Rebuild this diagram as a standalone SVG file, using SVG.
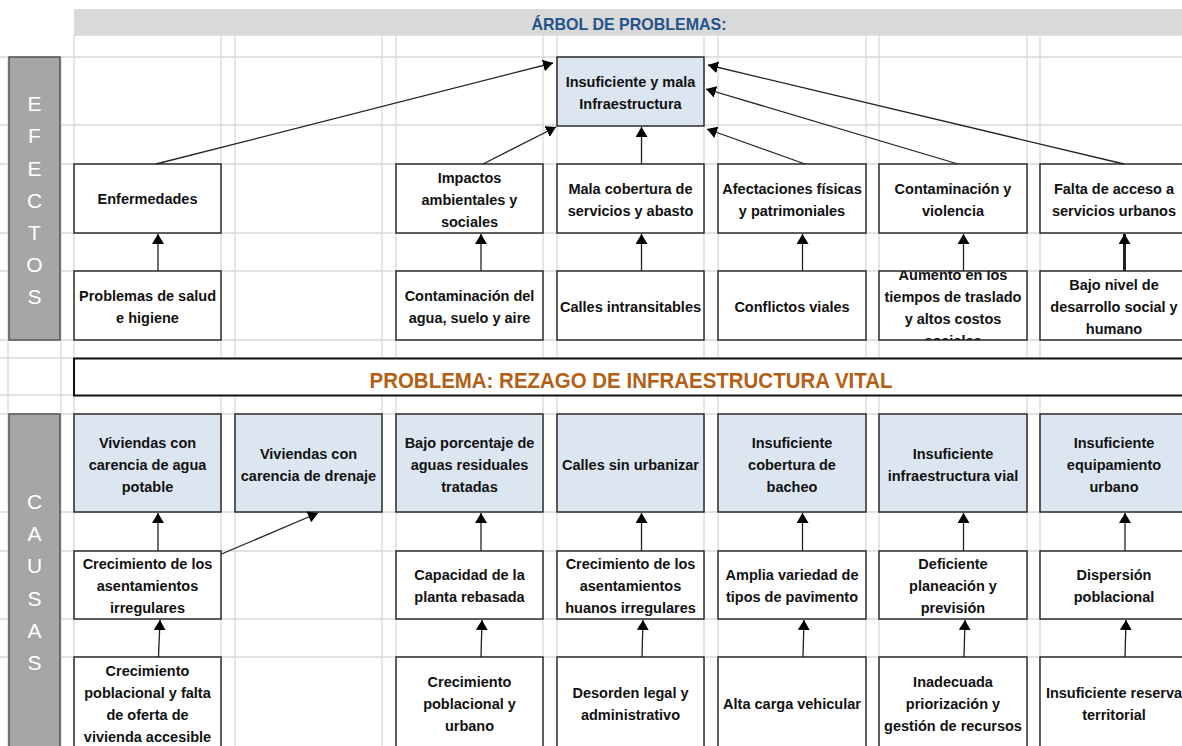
<svg xmlns="http://www.w3.org/2000/svg" width="1182" height="746" viewBox="0 0 1182 746">
<style>
.grid{stroke:#d9d9d9;stroke-width:1.3;fill:none}
.box{fill:#ffffff;stroke:#1e1e1e;stroke-width:1.4}
.blue{fill:#dce6f1;stroke:#1e1e1e;stroke-width:1.4}
.side{fill:#a6a6a6;stroke:#5a5a5a;stroke-width:1.6}
.sl{font-family:"Liberation Sans",Arial,sans-serif;font-size:21px;fill:#ffffff;text-anchor:middle}
.t{font-family:"Liberation Sans",Arial,sans-serif;font-size:14.5px;font-weight:bold;fill:#111111;text-anchor:middle}
.arr{stroke:#222222;stroke-width:1.3;fill:none;marker-end:url(#ah)}
</style>
<defs>
<marker id="ah" viewBox="0 0 10 12" refX="10" refY="6" markerWidth="10" markerHeight="12" markerUnits="userSpaceOnUse" orient="auto">
<path d="M0,0 L10,6 L0,12 z" fill="#000000"/>
</marker>
<clipPath id="clipAum"><rect x="879" y="271" width="147" height="69"/></clipPath>
</defs>
<rect x="0" y="0" width="1182" height="746" fill="#ffffff"/>
<g id="grid">
<path class="grid" d="M8,57V746M61,57V746M74,35V746M221,35V746M235,35V746M382,35V746M396,35V746M543,35V746M557,35V746M704,35V746M718,35V746M866,35V746M879,35V746M1027,35V746M1040,35V746"/>
<path class="grid" d="M74,35H1182M0,57H1182M0,125H1182M0,164H1182M0,233H1182M0,271H1182M0,340H1182M0,358H1182M0,395H1182M0,414H1182M0,512H1182M0,551H1182M0,619H1182M0,657H1182"/>
</g>
<g id="header">
<rect x="74" y="9" width="1108" height="26" fill="#d9d9d9"/>
<text x="629" y="30" font-family="'Liberation Sans',Arial,sans-serif" font-size="17" font-weight="bold" fill="#24538a" text-anchor="middle" textLength="195" lengthAdjust="spacingAndGlyphs">ÁRBOL DE PROBLEMAS:</text>
</g>
<g id="side-efectos">
<rect class="side" x="9" y="57" width="51" height="283"/>
<text class="sl" x="34.5" y="110.5">E</text>
<text class="sl" x="34.5" y="142.8">F</text>
<text class="sl" x="34.5" y="175.5">E</text>
<text class="sl" x="34.5" y="207.5">C</text>
<text class="sl" x="34.5" y="239.5">T</text>
<text class="sl" x="34.5" y="271.5">O</text>
<text class="sl" x="34.5" y="304">S</text>
</g>
<g id="side-causas">
<rect class="side" x="9" y="414" width="51" height="340"/>
<text class="sl" x="34.5" y="509">C</text>
<text class="sl" x="34.5" y="540.5">A</text>
<text class="sl" x="34.5" y="573">U</text>
<text class="sl" x="34.5" y="605.5">S</text>
<text class="sl" x="34.5" y="638">A</text>
<text class="sl" x="34.5" y="669.5">S</text>
</g>
<g id="problema">
<rect x="74" y="358.5" width="1120" height="37" fill="#ffffff" stroke="#111111" stroke-width="2"/>
<text x="631" y="388" font-family="'Liberation Sans',Arial,sans-serif" font-size="22.5" font-weight="bold" fill="#b45f14" text-anchor="middle" textLength="523" lengthAdjust="spacingAndGlyphs">PROBLEMA: REZAGO DE INFRAESTRUCTURA VITAL</text>
</g>
<g id="n-top"><rect class="blue" x="557" y="57" width="147" height="69"/><text class="t" x="630.5" y="86.5">Insuficiente y mala</text><text class="t" x="630.5" y="108.5">Infraestructura</text></g>
<g id="e1-1"><rect class="box" x="74" y="164" width="147" height="69"/><text class="t" x="147.5" y="204">Enfermedades</text></g>
<g id="e1-3"><rect class="box" x="396" y="164" width="147" height="69"/><text class="t" x="469.5" y="182.5">Impactos</text><text class="t" x="469.5" y="204.5">ambientales y</text><text class="t" x="469.5" y="226.5">sociales</text></g>
<g id="e1-4"><rect class="box" x="557" y="164" width="147" height="69"/><text class="t" x="630.5" y="193.5">Mala cobertura de</text><text class="t" x="630.5" y="215.5">servicios y abasto</text></g>
<g id="e1-5"><rect class="box" x="718" y="164" width="148" height="69"/><text class="t" x="792" y="193.5">Afectaciones físicas</text><text class="t" x="792" y="215.5">y patrimoniales</text></g>
<g id="e1-6"><rect class="box" x="879" y="164" width="148" height="69"/><text class="t" x="953" y="193.5">Contaminación y</text><text class="t" x="953" y="215.5">violencia</text></g>
<g id="e1-7"><rect class="box" x="1040" y="164" width="148" height="69"/><text class="t" x="1114" y="193.5">Falta de acceso a</text><text class="t" x="1114" y="215.5">servicios urbanos</text></g>
<g id="e2-1"><rect class="box" x="74" y="271" width="147" height="69"/><text class="t" x="147.5" y="300.5">Problemas de salud</text><text class="t" x="147.5" y="322.5">e higiene</text></g>
<g id="e2-3"><rect class="box" x="396" y="271" width="147" height="69"/><text class="t" x="469.5" y="300.5">Contaminación del</text><text class="t" x="469.5" y="322.5">agua, suelo y aire</text></g>
<g id="e2-4"><rect class="box" x="557" y="271" width="147" height="69"/><text class="t" x="630.5" y="311.5">Calles intransitables</text></g>
<g id="e2-5"><rect class="box" x="718" y="271" width="148" height="69"/><text class="t" x="792" y="311.5">Conflictos viales</text></g>
<g id="e2-6"><rect class="box" x="879" y="271" width="148" height="69"/><g clip-path="url(#clipAum)"><text class="t" x="953" y="280">Aumento en los</text><text class="t" x="953" y="302">tiempos de traslado</text><text class="t" x="953" y="324">y altos costos</text><text class="t" x="953" y="346">sociales</text></g></g>
<g id="e2-7"><rect class="box" x="1040" y="271" width="148" height="69"/><text class="t" x="1114" y="290">Bajo nivel de</text><text class="t" x="1114" y="312">desarrollo social y</text><text class="t" x="1114" y="334">humano</text></g>
<g id="c1-1"><rect class="blue" x="74" y="414" width="147" height="98"/><text class="t" x="147.5" y="447.5">Viviendas con</text><text class="t" x="147.5" y="469.5">carencia de agua</text><text class="t" x="147.5" y="491.5">potable</text></g>
<g id="c1-2"><rect class="blue" x="235" y="414" width="147" height="98"/><text class="t" x="308.5" y="458.5">Viviendas con</text><text class="t" x="308.5" y="480.5">carencia de drenaje</text></g>
<g id="c1-3"><rect class="blue" x="396" y="414" width="147" height="98"/><text class="t" x="469.5" y="447.5">Bajo porcentaje de</text><text class="t" x="469.5" y="469.5">aguas residuales</text><text class="t" x="469.5" y="491.5">tratadas</text></g>
<g id="c1-4"><rect class="blue" x="557" y="414" width="147" height="98"/><text class="t" x="630.5" y="469.5">Calles sin urbanizar</text></g>
<g id="c1-5"><rect class="blue" x="718" y="414" width="148" height="98"/><text class="t" x="792" y="447.5">Insuficiente</text><text class="t" x="792" y="469.5">cobertura de</text><text class="t" x="792" y="491.5">bacheo</text></g>
<g id="c1-6"><rect class="blue" x="879" y="414" width="148" height="98"/><text class="t" x="953" y="458.5">Insuficiente</text><text class="t" x="953" y="480.5">infraestructura vial</text></g>
<g id="c1-7"><rect class="blue" x="1040" y="414" width="148" height="98"/><text class="t" x="1114" y="447.5">Insuficiente</text><text class="t" x="1114" y="469.5">equipamiento</text><text class="t" x="1114" y="491.5">urbano</text></g>
<g id="c2-1"><rect class="box" x="74" y="551" width="147" height="68"/><text class="t" x="147.5" y="569">Crecimiento de los</text><text class="t" x="147.5" y="591">asentamientos</text><text class="t" x="147.5" y="613">irregulares</text></g>
<g id="c2-3"><rect class="box" x="396" y="551" width="147" height="68"/><text class="t" x="469.5" y="580">Capacidad de la</text><text class="t" x="469.5" y="602">planta rebasada</text></g>
<g id="c2-4"><rect class="box" x="557" y="551" width="147" height="68"/><text class="t" x="630.5" y="569">Crecimiento de los</text><text class="t" x="630.5" y="591">asentamientos</text><text class="t" x="630.5" y="613">huanos irregulares</text></g>
<g id="c2-5"><rect class="box" x="718" y="551" width="148" height="68"/><text class="t" x="792" y="580">Amplia variedad de</text><text class="t" x="792" y="602">tipos de pavimento</text></g>
<g id="c2-6"><rect class="box" x="879" y="551" width="148" height="68"/><text class="t" x="953" y="569">Deficiente</text><text class="t" x="953" y="591">planeación y</text><text class="t" x="953" y="613">previsión</text></g>
<g id="c2-7"><rect class="box" x="1040" y="551" width="148" height="68"/><text class="t" x="1114" y="580">Dispersión</text><text class="t" x="1114" y="602">poblacional</text></g>
<g id="c3-1"><rect class="box" x="74" y="657" width="147" height="94"/><text class="t" x="147.5" y="676">Crecimiento</text><text class="t" x="147.5" y="698">poblacional y falta</text><text class="t" x="147.5" y="720">de oferta de</text><text class="t" x="147.5" y="742">vivienda accesible</text></g>
<g id="c3-3"><rect class="box" x="396" y="657" width="147" height="94"/><text class="t" x="469.5" y="687">Crecimiento</text><text class="t" x="469.5" y="709">poblacional y</text><text class="t" x="469.5" y="731">urbano</text></g>
<g id="c3-4"><rect class="box" x="557" y="657" width="147" height="94"/><text class="t" x="630.5" y="698">Desorden legal y</text><text class="t" x="630.5" y="720">administrativo</text></g>
<g id="c3-5"><rect class="box" x="718" y="657" width="148" height="94"/><text class="t" x="792" y="708.5">Alta carga vehicular</text></g>
<g id="c3-6"><rect class="box" x="879" y="657" width="148" height="94"/><text class="t" x="953" y="687">Inadecuada</text><text class="t" x="953" y="709">priorización y</text><text class="t" x="953" y="731">gestión de recursos</text></g>
<g id="c3-7"><rect class="box" x="1040" y="657" width="148" height="94"/><text class="t" x="1114" y="698">Insuficiente reserva</text><text class="t" x="1114" y="720">territorial</text></g>
<g id="connectors">
<line class="arr" x1="156" y1="164" x2="553" y2="63"/>
<line class="arr" x1="483" y1="164" x2="556" y2="127"/>
<line class="arr" x1="641.5" y1="164" x2="641.5" y2="127"/>
<line class="arr" x1="805" y1="164" x2="707" y2="129"/>
<line class="arr" x1="958" y1="164" x2="706" y2="89"/>
<line class="arr" x1="1124" y1="164" x2="708" y2="65"/>
<line class="arr" x1="158" y1="271" x2="158" y2="234"/>
<line class="arr" x1="481" y1="271" x2="481" y2="234"/>
<line class="arr" x1="641.5" y1="271" x2="641.5" y2="234"/>
<line class="arr" x1="802.5" y1="271" x2="802.5" y2="234"/>
<line class="arr" x1="963.5" y1="271" x2="963.5" y2="234"/>
<line class="arr" x1="1124.5" y1="271" x2="1124.5" y2="234" style="stroke-width:3"/>
<line class="arr" x1="158" y1="551" x2="158" y2="513"/>
<line class="arr" x1="221.5" y1="554" x2="318" y2="513"/>
<line class="arr" x1="481" y1="551" x2="481" y2="513"/>
<line class="arr" x1="641.5" y1="551" x2="641.5" y2="513"/>
<line class="arr" x1="802.5" y1="551" x2="802.5" y2="513"/>
<line class="arr" x1="963.5" y1="551" x2="963.5" y2="513"/>
<line class="arr" x1="1125" y1="551" x2="1125" y2="513"/>
<line class="arr" x1="158.5" y1="657" x2="160" y2="620"/>
<line class="arr" x1="481" y1="657" x2="482" y2="620"/>
<line class="arr" x1="642" y1="657" x2="643" y2="620"/>
<line class="arr" x1="803" y1="657" x2="804" y2="620"/>
<line class="arr" x1="964" y1="657" x2="965" y2="620"/>
<line class="arr" x1="1125" y1="657" x2="1126" y2="620"/>
</g>
</svg>
